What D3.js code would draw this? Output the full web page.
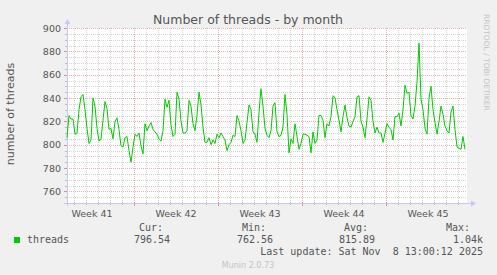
<!DOCTYPE html>
<html>
<head>
<meta charset="utf-8">
<script src="https://cdn.jsdelivr.net/npm/d3@7"></script>
<style>
  html, body { margin: 0; padding: 0; background: #f0f0f0; }
  svg { display: block; }
</style>
</head>
<body>
<div id="chart"></div>
<script>
// threads, one sample every 4 hours
const startTime = Date.UTC(2025, 9, 7, 10, 0, 0);
const stepHours = 4;
const threads = [
  806, 825, 822, 822, 809, 810, 830, 841, 843, 830,
  814, 801, 804, 840, 833, 814, 803, 805, 821, 837,
  831, 813, 814, 805, 820, 823, 813, 799, 798, 806,
  807, 795, 785, 798, 809, 807, 810, 799, 792, 818,
  812, 816, 819, 813, 811, 809, 805, 803, 812, 839,
  832, 838, 817, 807, 809, 845, 839, 820, 810, 810,
  812, 838, 833, 818, 812, 825, 845, 834, 815, 802,
  802, 806, 800, 804, 801, 809, 806, 810, 807, 804,
  795, 800, 802, 808, 807, 825, 820, 812, 801, 804,
  819, 834, 830, 811, 809, 802, 828, 848, 833, 814,
  808, 806, 812, 833, 836, 811, 807, 808, 815, 843,
  826, 793, 805, 801, 818, 807, 796, 801, 809, 809,
  808, 807, 793, 811, 801, 804, 825, 825, 821, 806,
  818, 816, 824, 842, 840, 830, 821, 811, 824, 834,
  823, 816, 815, 820, 824, 841, 842, 820, 815, 806,
  822, 841, 838, 820, 810, 815, 810, 810, 802, 810,
  818, 815, 813, 804, 824, 824, 827, 816, 830, 851,
  844, 845, 825, 822, 833, 854, 887, 839, 830, 814,
  809, 840, 850, 830, 819, 809, 820, 833, 826, 816,
  812, 810, 828, 833, 813, 798, 797, 796, 807, 796
];
const yTicks = [760, 780, 800, 820, 840, 860, 880, 900];
const statLabels = ["Cur:", "Min:", "Avg:", "Max:"];
const statValues = ["796.54", "762.56", "815.89", "1.04k"];

const W = 497, H = 275;
const plotL = 67, plotR = 467, plotT = 28, plotB = 203;
const font = "'DejaVu Sans', Verdana, sans-serif";
const mono = "'DejaVu Sans Mono', monospace";

const data = threads.map((v, i) => ({ t: new Date(startTime + i * stepHours * 3600e3), v: v }));
const endTime = new Date(startTime + 800 * 3600e3);

const x = d3.scaleUtc().domain([new Date(startTime), endTime]).range([plotL, plotR]);
const y = d3.scaleLinear().domain([750, 900]).range([plotB, plotT]);

const svg = d3.select("#chart").append("svg").attr("width", W).attr("height", H);
svg.append("rect").attr("width", W).attr("height", H).attr("fill", "#f0f0f0");
svg.append("rect").attr("x", plotL).attr("y", plotT).attr("width", plotR - plotL).attr("height", plotB - plotT).attr("fill", "#fff");

const px = v => Math.round(v) + 0.5;
const grid = svg.append("g");

// minor grid
const minorY = d3.range(750, 901, 5).filter(v => v % 20 !== 0);
grid.selectAll(".my").data(minorY).join("line")
  .attr("x1", plotL).attr("x2", plotR).attr("y1", d => px(y(d))).attr("y2", d => px(y(d)))
  .attr("stroke", "#d4d4d4").attr("stroke-dasharray", "1,1");
const days = x.ticks(d3.utcDay.every(1)).filter(d => d.getUTCDay() !== 1);
grid.selectAll(".mx").data(days).join("line")
  .attr("x1", d => px(x(d))).attr("x2", d => px(x(d))).attr("y1", plotT).attr("y2", plotB)
  .attr("stroke", "#d4d4d4").attr("stroke-dasharray", "1,1");

// major grid
grid.selectAll(".My").data(yTicks).join("line")
  .attr("x1", plotL).attr("x2", plotR).attr("y1", d => px(y(d))).attr("y2", d => px(y(d)))
  .attr("stroke", "#ebb0b0").attr("stroke-dasharray", "1,1");
const weeks = d3.utcMonday.range(x.domain()[0], x.domain()[1]);
grid.selectAll(".Mx").data(weeks).join("line")
  .attr("x1", d => px(x(d))).attr("x2", d => px(x(d))).attr("y1", plotT).attr("y2", plotB)
  .attr("stroke", "#ebb0b0").attr("stroke-dasharray", "1,1");

// axis tick marks
const axisColor = "#c8c8f4";
svg.append("g").selectAll("line").data(days).join("line")
  .attr("x1", d => px(x(d))).attr("x2", d => px(x(d))).attr("y1", plotB - 1).attr("y2", plotB + 2)
  .attr("stroke", "#bbb");
svg.append("g").selectAll("line").data(weeks).join("line")
  .attr("x1", d => px(x(d))).attr("x2", d => px(x(d))).attr("y1", plotB - 1).attr("y2", plotB + 3)
  .attr("stroke", "#e88");
svg.append("g").selectAll("line").data(minorY).join("line")
  .attr("x1", plotL - 2).attr("x2", plotL + 1).attr("y1", d => px(y(d))).attr("y2", d => px(y(d)))
  .attr("stroke", "#bbb");
svg.append("g").selectAll("line").data(yTicks).join("line")
  .attr("x1", plotL - 3).attr("x2", plotL + 1).attr("y1", d => px(y(d))).attr("y2", d => px(y(d)))
  .attr("stroke", "#e88");

// axes with arrows
svg.append("line").attr("x1", plotL + 0.5).attr("x2", plotL + 0.5).attr("y1", plotB + 3).attr("y2", plotT - 5)
  .attr("stroke", axisColor);
svg.append("path").attr("d", `M${plotL - 2.5},${plotT - 4} L${plotL + 3.5},${plotT - 4} L${plotL + 0.5},${plotT - 9} Z`).attr("fill", axisColor);
svg.append("line").attr("x1", plotL - 3).attr("x2", plotR + 5).attr("y1", plotB + 0.5).attr("y2", plotB + 0.5)
  .attr("stroke", axisColor);
svg.append("path").attr("d", `M${plotR + 4},${plotB - 2.5} L${plotR + 4},${plotB + 3.5} L${plotR + 9},${plotB + 0.5} Z`).attr("fill", axisColor);

// series
svg.append("path").datum(data)
  .attr("fill", "none").attr("stroke", "#00cc00").attr("stroke-width", 1)
  .attr("stroke-linejoin", "round")
  .attr("d", d3.line().x(d => x(d.t)).y(d => y(d.v)));

// labels
const txt = "#555";
svg.append("g").selectAll("text").data(yTicks).join("text")
  .attr("x", 61).attr("y", d => y(d) + 3.5).attr("text-anchor", "end")
  .attr("font-family", font).attr("font-size", 9.5).attr("fill", txt).text(d => d);

const weekFmt = d3.utcFormat("Week %V");
const labelWeeks = [d3.utcMonday.floor(x.domain()[0])].concat(weeks);
svg.append("g").selectAll("text").data(labelWeeks).join("text")
  .attr("x", d => x(d3.utcHour.offset(d, 84)))
  .attr("y", 216.5).attr("text-anchor", "middle")
  .attr("font-family", font).attr("font-size", 9.5).attr("fill", txt)
  .text(d => weekFmt(d));

svg.append("text").attr("x", 248).attr("y", 23.5).attr("text-anchor", "middle")
  .attr("font-family", font).attr("font-size", 12.5).attr("fill", txt)
  .text("Number of threads - by month");

svg.append("text").attr("transform", "translate(484,14) rotate(90)").attr("text-anchor", "start")
  .attr("font-family", font).attr("font-size", 7.5).attr("fill", "#c4c4c4")
  .text("RRDTOOL / TOBI OETIKER");

svg.append("text").attr("transform", "translate(14,114) rotate(-90)").attr("text-anchor", "middle")
  .attr("font-family", font).attr("font-size", 11).attr("fill", txt)
  .text("number of threads");

// legend
svg.append("rect").attr("x", 14).attr("y", 237).attr("width", 6).attr("height", 6).attr("fill", "#00cc00");
svg.append("text").attr("x", 27).attr("y", 243).attr("font-family", mono).attr("font-size", 10).attr("fill", txt).text("threads");

const statX = [170, 273, 375, 483];
svg.append("g").selectAll("text").data(statLabels).join("text")
  .attr("x", (d, i) => statX[i] - (i === 3 ? 13 : 7)).attr("y", 231).attr("text-anchor", "end")
  .attr("font-family", mono).attr("font-size", 10).attr("fill", txt).text(d => d);
svg.append("g").selectAll("text").data(statValues).join("text")
  .attr("x", (d, i) => statX[i]).attr("y", 243).attr("text-anchor", "end")
  .attr("font-family", mono).attr("font-size", 10).attr("fill", txt).text(d => d);

svg.append("text").attr("x", 483).attr("y", 255).attr("text-anchor", "end")
  .attr("font-family", mono).attr("font-size", 10).attr("fill", txt)
  .attr("xml:space", "preserve").style("white-space", "pre")
  .text("Last update: Sat Nov  8 13:00:12 2025");

svg.append("text").attr("x", 248).attr("y", 267.5).attr("text-anchor", "middle")
  .attr("font-family", font).attr("font-size", 8).attr("fill", "#c4c4c4")
  .text("Munin 2.0.73");
</script>
</body>
</html>
